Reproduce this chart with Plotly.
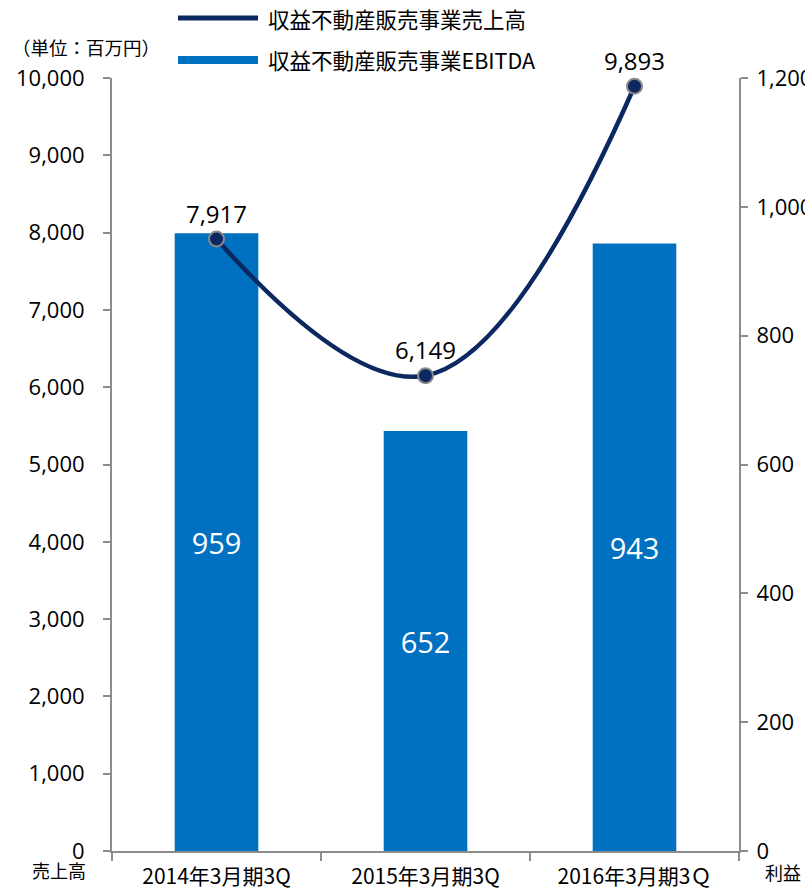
import plotly.graph_objects as go

# 収益不動産販売事業：売上高（左軸）とEBITDA（右軸）、単位：百万円
periods = ["2014年3月期3Q", "2015年3月期3Q", "2016年3月期3Ｑ"]
sales = [7917, 6149, 9893]
ebitda = [959, 652, 943]

sales_name = "収益不動産販売事業売上高"
ebitda_name = "収益不動産販売事業EBITDA"

NUM_FONT = "'Open Sans', 'Noto Sans CJK JP', sans-serif"
JP_FONT = "'Noto Sans CJK JP', 'Noto Sans', sans-serif"
LINE_COLOR = "#0c2861"
BAR_COLOR = "#0070c0"
AXIS_GRAY = "#8c8c8c"

fig = go.Figure()

# 棒（EBITDA）は右軸 y、折れ線（売上高）は左軸 y2 に重ねて前面に描く
fig.add_trace(go.Bar(
    x=periods, y=ebitda, name=ebitda_name, yaxis="y",
    marker=dict(color=BAR_COLOR, line=dict(width=0)),
    width=0.4,
    text=[f"{v:,}" for v in ebitda], textposition="inside",
    insidetextanchor="middle",
    textfont=dict(color="white", size=29, family=NUM_FONT),
    showlegend=False,
))

fig.add_trace(go.Scatter(
    x=periods, y=sales, name=sales_name, yaxis="y2",
    mode="lines+markers+text",
    line=dict(color=LINE_COLOR, width=4.5, shape="spline", smoothing=1.15),
    marker=dict(size=15, color=LINE_COLOR, line=dict(color="#8a8a8a", width=2)),
    text=[f"{v:,}" for v in sales], textposition="top center",
    textfont=dict(color="black", size=24, family=NUM_FONT),
    showlegend=False, cliponaxis=False,
))

W, H = 830, 892
L, R, T, B = 112, W - 739, 78, 41

fig.update_layout(
    width=W, height=H,
    margin=dict(l=L, r=R, t=T, b=B, autoexpand=False),
    paper_bgcolor="white", plot_bgcolor="white",
    xaxis=dict(
        type="category", tickson="boundaries",
        showline=True, linecolor=AXIS_GRAY, linewidth=2,
        ticks="outside", ticklen=8, tickcolor=AXIS_GRAY, tickwidth=2,
        showgrid=False, zeroline=False,
        tickfont=dict(size=21, color="black", family=JP_FONT),
        ticklabelstandoff=6,
    ),
    yaxis=dict(
        range=[0, 1200], dtick=200, tickformat=",", side="right",
        showline=True, linecolor=AXIS_GRAY, linewidth=2,
        ticks="outside", ticklen=7, tickcolor=AXIS_GRAY, tickwidth=2,
        showgrid=False, zeroline=False,
        tickfont=dict(size=22, color="black", family=NUM_FONT),
        ticklabelstandoff=4,
    ),
    yaxis2=dict(
        range=[0, 10000], dtick=1000, tickformat=",",
        overlaying="y", side="left",
        showline=True, linecolor=AXIS_GRAY, linewidth=2,
        ticks="outside", ticklen=7, tickcolor=AXIS_GRAY, tickwidth=2,
        showgrid=False, zeroline=False,
        tickfont=dict(size=22, color="black", family=NUM_FONT),
        ticklabelstandoff=14,
    ),
)


def px_x(px):
    return (px - L) / (W - L - R)


def px_y(py):
    return 1 - (py - T) / (H - T - B)


# 凡例（線サンプル＋ラベル）
legend_items = [(sales_name, LINE_COLOR, 18, 5), (ebitda_name, BAR_COLOR, 60, 8)]
for label, color, ypx, thick in legend_items:
    fig.add_shape(type="line", xref="paper", yref="paper",
                  x0=px_x(178), x1=px_x(258), y0=px_y(ypx), y1=px_y(ypx),
                  line=dict(color=color, width=thick))
    fig.add_annotation(xref="paper", yref="paper", x=px_x(266), y=px_y(ypx),
                       text=label, showarrow=False, xanchor="left", yanchor="middle",
                       font=dict(size=21.5, color="black", family=JP_FONT))

fig.add_annotation(xref="paper", yref="paper", x=px_x(10), y=px_y(47),
                   text="（単位：百万円）", showarrow=False, xanchor="left", yanchor="middle",
                   font=dict(size=18.5, color="black", family=JP_FONT))
fig.add_annotation(xref="paper", yref="paper", x=px_x(30), y=px_y(870),
                   text="売上高", showarrow=False, xanchor="left", yanchor="middle",
                   font=dict(size=18, color="black", family=JP_FONT))
fig.add_annotation(xref="paper", yref="paper", x=px_x(763), y=px_y(872),
                   text="利益", showarrow=False, xanchor="left", yanchor="middle",
                   font=dict(size=18, color="black", family=JP_FONT))

fig.write_html("out.html")
